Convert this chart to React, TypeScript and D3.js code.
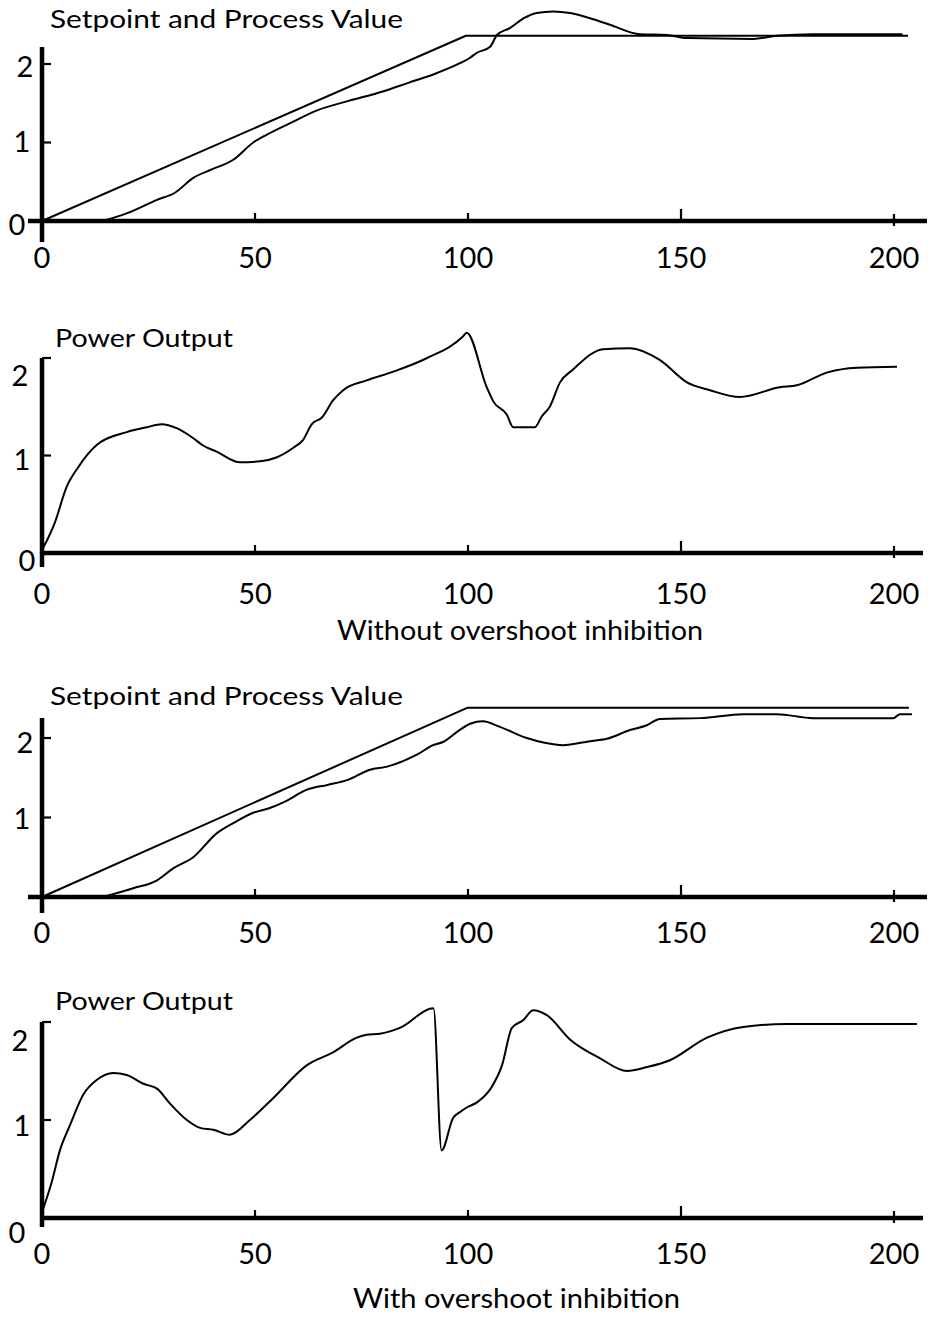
import React from "react";
import * as d3 from "d3";

// ---------- data ----------
const xTickValues = [0, 50, 100, 150, 200];
const xTickLabels = ["0", "50", "100", "150", "200"];

const titles = [
  "Setpoint and Process Value",
  "Power Output",
  "Setpoint and Process Value",
  "Power Output",
];
const captions = ["Without overshoot inhibition", "With overshoot inhibition"];

// Panel 1: without inhibition, setpoint & process value
const sp1T = [0, 99.5, 203.3];
const sp1V = [0, 2.36, 2.36];
const pv1T = [14.3, 20, 27, 31.2, 35.5, 40, 44.9, 49.6, 52.8, 58, 64.6, 72, 80, 86, 92, 98.1, 100.5, 102, 105.2, 106.8, 109.9, 113, 116.1, 120, 124, 129.4, 133.3, 140.4, 146.7, 151.4, 167, 172.5, 181, 202];
const pv1V = [0, 0.1, 0.27, 0.36, 0.55, 0.66, 0.78, 1.0, 1.1, 1.24, 1.41, 1.53, 1.65, 1.76, 1.87, 2.01, 2.08, 2.14, 2.22, 2.37, 2.46, 2.58, 2.65, 2.67, 2.65, 2.57, 2.5, 2.38, 2.37, 2.33, 2.32, 2.36, 2.38, 2.38];

// Panel 2: without inhibition, power output
const pw2T = [0, 3, 5.8, 8.5, 12.9, 19.9, 24.6, 28.1, 31.6, 35.1, 37.9, 41, 46.5, 51.2, 55, 59, 61.3, 63.3, 65.7, 68.4, 70.7, 76.2, 82.5, 90.4, 98.8, 99.7, 104.4, 106, 109.1, 110.6, 115.7, 117.3, 119.2, 121.6, 124.6, 131.7, 138, 145, 151.4, 156.8, 163.8, 173.2, 177.2, 184.2, 191.3, 200.7];
const pw2V = [0.03, 0.31, 0.68, 0.88, 1.11, 1.24, 1.29, 1.32, 1.28, 1.19, 1.1, 1.04, 0.93, 0.94, 0.98, 1.08, 1.16, 1.32, 1.39, 1.57, 1.67, 1.77, 1.86, 2.0, 2.22, 2.26, 1.7, 1.55, 1.42, 1.29, 1.29, 1.4, 1.5, 1.75, 1.88, 2.09, 2.1, 1.98, 1.75, 1.67, 1.6, 1.7, 1.72, 1.85, 1.9, 1.91];

// Panel 3: with inhibition, setpoint & process value
const sp3T = [0, 99.8, 203.5];
const sp3V = [0, 2.38, 2.38];
const pv3T = [14.3, 21.4, 27, 30.8, 35.5, 41, 44.9, 49.6, 53.5, 57, 62.2, 67, 71.6, 77, 81, 88, 91.8, 94.1, 98, 100.5, 103.5, 107.5, 113.8, 118, 122.3, 128.6, 132.6, 138, 142, 145, 154.5, 164.6, 172.5, 181, 199.8, 201.4, 204.2];
const pv3V = [0, 0.11, 0.21, 0.36, 0.5, 0.8, 0.93, 1.06, 1.12, 1.2, 1.35, 1.41, 1.47, 1.6, 1.64, 1.79, 1.91, 1.95, 2.1, 2.18, 2.21, 2.14, 2.0, 1.94, 1.91, 1.96, 1.99, 2.1, 2.16, 2.24, 2.25, 2.3, 2.3, 2.25, 2.25, 2.3, 2.3];

// Panel 4: with inhibition, power output
const pw4T = [0, 2.3, 4.2, 6.6, 9.7, 12.9, 16.7, 19.9, 23.8, 27, 30, 34, 37.1, 40.2, 44.1, 48.8, 54.2, 62.2, 68.3, 73.9, 76.2, 79.3, 84, 91.9, 93.8, 96.5, 98.1, 99.8, 102.1, 105.6, 108, 110.3, 113, 115.3, 118.5, 124, 131, 137.3, 142, 147.4, 156.1, 164.6, 174.9, 205.4];
const pw4V = [0.06, 0.37, 0.69, 0.95, 1.26, 1.41, 1.48, 1.46, 1.37, 1.32, 1.17, 1.0, 0.92, 0.9, 0.85, 1.0, 1.22, 1.56, 1.69, 1.84, 1.87, 1.88, 1.94, 2.14, 0.69, 1.02, 1.08, 1.13, 1.18, 1.34, 1.56, 1.94, 2.02, 2.12, 2.07, 1.82, 1.63, 1.5, 1.54, 1.61, 1.84, 1.95, 1.98, 1.98];

// ---------- layout ----------
const FONT = "Lato, 'Open Sans', sans-serif";
const x = d3.scaleLinear().domain([0, 200]).range([42, 894]);
const tickUp = [0, 8, 8, 12, 7];
const tickDown = [0, 0, 0, 0, 5];

type Series = { t: number[]; v: number[]; curve: d3.CurveFactory };
type PanelCfg = {
  title: string;
  zero: number;
  y2: number;
  yTop: number;
  yBottom: number;
  xLeft: number;
  xRight: number;
  titleX: number;
  titleBase: number;
  titleW: number;
  bracket: boolean;
  yLabels: { v: number; x: number; y: number }[];
  xLabelY: number;
  series: Series[];
};

const panels: PanelCfg[] = [
  {
    title: titles[0], zero: 221, y2: 64, yTop: 47, yBottom: 242, xLeft: 28, xRight: 927,
    titleX: 50, titleBase: 28, titleW: 353, bracket: false,
    yLabels: [{ v: 2, x: 25, y: 65 }, { v: 1, x: 22, y: 140 }, { v: 0, x: 17, y: 223 }],
    xLabelY: 256,
    series: [
      { t: sp1T, v: sp1V, curve: d3.curveLinear },
      { t: pv1T, v: pv1V, curve: d3.curveMonotoneX },
    ],
  },
  {
    title: titles[1], zero: 553, y2: 358, yTop: 358, yBottom: 567, xLeft: 42, xRight: 923,
    titleX: 55, titleBase: 347, titleW: 178, bracket: true,
    yLabels: [{ v: 2, x: 20, y: 374 }, { v: 1, x: 22, y: 458 }, { v: 0, x: 27, y: 559 }],
    xLabelY: 592,
    series: [{ t: pw2T, v: pw2V, curve: d3.curveMonotoneX }],
  },
  {
    title: titles[2], zero: 897, y2: 738, yTop: 718, yBottom: 913, xLeft: 28, xRight: 927,
    titleX: 50, titleBase: 705, titleW: 353, bracket: false,
    yLabels: [{ v: 2, x: 25, y: 741 }, { v: 1, x: 22, y: 817 }],
    xLabelY: 931,
    series: [
      { t: sp3T, v: sp3V, curve: d3.curveLinear },
      { t: pv3T, v: pv3V, curve: d3.curveMonotoneX },
    ],
  },
  {
    title: titles[3], zero: 1218, y2: 1022, yTop: 1022, yBottom: 1227, xLeft: 42, xRight: 923,
    titleX: 55, titleBase: 1010, titleW: 178, bracket: true,
    yLabels: [{ v: 2, x: 20, y: 1039 }, { v: 1, x: 22, y: 1124 }, { v: 0, x: 17, y: 1231 }],
    xLabelY: 1252,
    series: [{ t: pw4T, v: pw4V, curve: d3.curveMonotoneX }],
  },
];

function Panel({ cfg }: { cfg: PanelCfg }) {
  const y = d3.scaleLinear().domain([0, 2]).range([cfg.zero, cfg.y2]);
  return (
    <g>
      <text
        x={cfg.titleX}
        y={cfg.titleBase}
        fontSize={25}
        fontFamily={FONT}
        textLength={cfg.titleW}
        lengthAdjust="spacingAndGlyphs"
        fill="#000"
      >
        {cfg.title}
      </text>
      {cfg.series.map((s, i) => {
        const pts: [number, number][] = s.t.map((t, k) => [t, s.v[k]]);
        const line = d3
          .line<[number, number]>()
          .x((d) => x(d[0]))
          .y((d) => y(d[1]))
          .curve(s.curve);
        return (
          <path
            key={i}
            d={line(pts) || ""}
            fill="none"
            stroke="#000"
            strokeWidth={2}
            strokeLinejoin="round"
          />
        );
      })}
      {/* x axis */}
      <line x1={cfg.xLeft} x2={cfg.xRight} y1={cfg.zero} y2={cfg.zero} stroke="#000" strokeWidth={4.5} />
      {xTickValues.map((v, i) =>
        i === 0 ? null : (
          <line
            key={v}
            x1={x(v)}
            x2={x(v)}
            y1={cfg.zero - tickUp[i]}
            y2={cfg.zero + tickDown[i]}
            stroke="#000"
            strokeWidth={2.2}
          />
        )
      )}
      {xTickValues.map((v, i) => (
        <text
          key={"xl" + v}
          x={x(v)}
          y={cfg.xLabelY}
          fontSize={29}
          fontFamily={FONT}
          textAnchor="middle"
          dominantBaseline="central"
          fill="#000"
        >
          {xTickLabels[i]}
        </text>
      ))}
      {/* y axis */}
      <line x1={42} x2={42} y1={cfg.yTop} y2={cfg.yBottom} stroke="#000" strokeWidth={4.5} />
      {[1, 2].map((v) => (
        <line key={"yt" + v} x1={42} x2={51} y1={y(v)} y2={y(v)} stroke="#000" strokeWidth={2.2} />
      ))}
      {cfg.yLabels.map((l) => (
        <text
          key={"yl" + l.v}
          x={l.x}
          y={l.y}
          fontSize={29}
          fontFamily={FONT}
          textAnchor="middle"
          dominantBaseline="central"
          fill="#000"
        >
          {String(l.v)}
        </text>
      ))}
    </g>
  );
}

export default function App() {
  return (
    <svg
      width={934}
      height={1317}
      viewBox="0 0 934 1317"
      style={{ position: "absolute", left: 0, top: 0, background: "#fff" }}
    >
      <rect x={0} y={0} width={934} height={1317} fill="#fff" />
      {panels.map((p, i) => (
        <Panel key={i} cfg={p} />
      ))}
      <text x={337} y={640} fontSize={27} fontFamily={FONT} textLength={366} lengthAdjust="spacingAndGlyphs" fill="#000">
        {captions[0]}
      </text>
      <text x={353} y={1308} fontSize={27} fontFamily={FONT} textLength={327} lengthAdjust="spacingAndGlyphs" fill="#000">
        {captions[1]}
      </text>
    </svg>
  );
}
